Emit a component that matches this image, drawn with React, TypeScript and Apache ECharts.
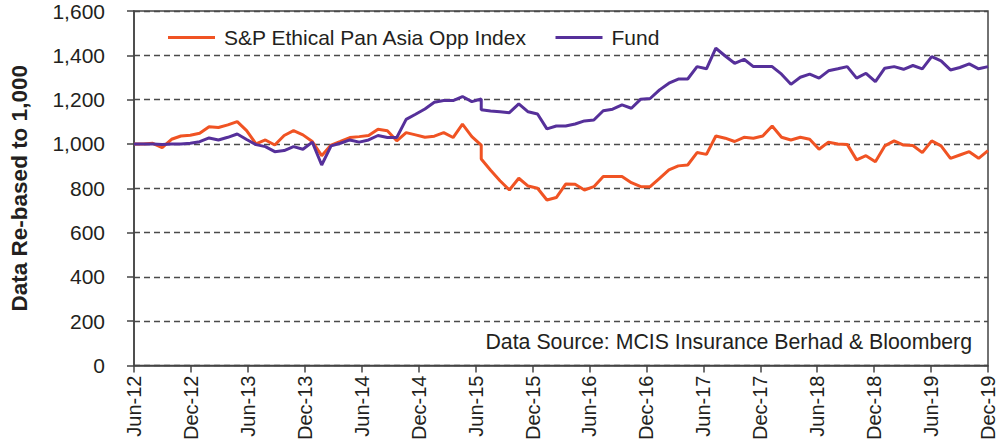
import React, { useEffect, useRef } from "react";
import * as echarts from "echarts";

// x-axis tick labels (every 6 months)
const xTickLabels = [
  "Jun-12", "Dec-12", "Jun-13", "Dec-13", "Jun-14", "Dec-14", "Jun-15", "Dec-15",
  "Jun-16", "Dec-16", "Jun-17", "Dec-17", "Jun-18", "Dec-18", "Jun-19", "Dec-19",
];
const yTickLabels = ["0", "200", "400", "600", "800", "1,000", "1,200", "1,400", "1,600"];

// observation positions (monthly steps, 0..91; step 37 appears twice: a sharp drop)
const obsSteps = [
  0, 1, 2, 3, 4, 5, 6, 7, 8, 9, 10, 11, 12, 13, 14, 15, 16, 17, 18, 19,
  20, 21, 22, 23, 24, 25, 26, 27, 28, 29, 30, 31, 32, 33, 34, 35, 36, 37, 37,
  38, 39, 40, 41, 42, 43, 44, 45, 46, 47, 48, 49, 50, 51, 52, 53, 54, 55, 56, 57, 58, 59,
  60, 61, 62, 63, 64, 65, 66, 67, 68, 69, 70, 71, 72, 73, 74, 75, 76, 77, 78, 79,
  80, 81, 82, 83, 84, 85, 86, 87, 88, 89, 90, 91,
];

const indexValues = [
  1000, 1000, 1003, 983, 1021, 1036, 1039, 1048, 1078, 1074, 1086, 1101, 1060, 1000, 1018, 995, 1038, 1060, 1041, 1011,
  947, 995, 1011, 1029, 1033, 1038, 1066, 1060, 1014, 1051, 1041, 1030, 1035, 1051, 1029, 1089, 1033, 995, 932,
  881, 834, 792, 845, 810, 800, 747, 758, 819, 818, 792, 807, 853, 853, 853, 825, 807, 807, 845, 883, 901, 905,
  961, 953, 1036, 1026, 1011, 1030, 1026, 1036, 1081, 1030, 1018, 1030, 1021, 976, 1008, 1000, 998, 928, 947, 920,
  991, 1014, 995, 993, 961, 1014, 991, 935, 950, 965, 935, 970,
];

const fundValues = [
  1000, 1000, 1000, 998, 1000, 1000, 1003, 1010, 1027, 1018, 1030, 1045, 1020, 997, 988, 965, 970, 988, 976, 1008,
  905, 991, 1003, 1018, 1008, 1018, 1038, 1029, 1029, 1111, 1134, 1158, 1188, 1196, 1196, 1214, 1191, 1203, 1154,
  1149, 1145, 1141, 1181, 1145, 1135, 1068, 1081, 1081, 1090, 1104, 1108, 1150, 1157, 1176, 1161, 1202, 1205, 1244, 1274, 1293, 1293,
  1349, 1339, 1432, 1397, 1364, 1382, 1349, 1349, 1349, 1315, 1269, 1301, 1315, 1297, 1330, 1339, 1349, 1297, 1319, 1281,
  1342, 1349, 1337, 1354, 1339, 1394, 1375, 1334, 1345, 1361, 1339, 1349,
];

const FONT = "'Liberation Sans', Arial, Helvetica, sans-serif";
const TEXT = "#231f20";

export default function App() {
  const ref = useRef<HTMLDivElement>(null);

  useEffect(() => {
    if (!ref.current) return;
    const chart = echarts.init(ref.current, undefined, { renderer: "svg" });
    chart.setOption({
      animation: false,
      textStyle: { fontFamily: FONT, color: TEXT },
      grid: {
        left: 133,
        right: 19,
        top: 11,
        bottom: 77.5,
        show: true,
        borderColor: "#444",
        borderWidth: 1.5,
        backgroundColor: "transparent",
      },
      legend: {
        left: 163,
        top: 22,
        icon: "rect",
        itemWidth: 47,
        itemHeight: 3,
        itemGap: 28,
        textStyle: { fontSize: 21, color: TEXT, fontFamily: FONT, padding: [0, 0, 0, 4] },
        data: ["S&P Ethical Pan Asia Opp Index", "Fund"],
      },
      xAxis: [
        {
          type: "value",
          min: 0,
          max: 90,
          interval: 6,
          position: "bottom",
          axisLine: { show: true, lineStyle: { color: "#444", width: 1.5 } },
          axisTick: { show: true, length: 7, lineStyle: { color: "#444", width: 1.5 } },
          splitLine: { show: false },
          axisLabel: {
            rotate: 90,
            fontSize: 20,
            color: TEXT,
            fontFamily: FONT,
            margin: 10,
            formatter: (v: number) => xTickLabels[Math.round(v / 6)] ?? "",
          },
        },
        {
          type: "value",
          min: 0,
          max: 91,
          show: false,
        },
      ],
      yAxis: {
        type: "value",
        min: 0,
        max: 1600,
        interval: 200,
        name: "Data Re-based to 1,000",
        nameLocation: "middle",
        nameGap: 103,
        nameRotate: 90,
        nameTextStyle: { fontSize: 22.5, fontWeight: "bold", color: TEXT, fontFamily: FONT },
        axisLine: { show: true, lineStyle: { color: "#444", width: 1.5 } },
        axisTick: { show: true, length: 7, lineStyle: { color: "#444", width: 1.5 } },
        axisLabel: {
          fontSize: 21,
          color: TEXT,
          fontFamily: FONT,
          margin: 29,
          formatter: (v: number) => yTickLabels[Math.round(v / 200)] ?? "",
        },
        splitLine: { show: true, lineStyle: { color: "#4a4a4a", width: 1.3, type: [6, 4] } },
      },
      series: [
        {
          name: "S&P Ethical Pan Asia Opp Index",
          type: "line",
          xAxisIndex: 1,
          symbol: "none",
          lineStyle: { color: "#f05323", width: 3 },
          itemStyle: { color: "#f05323" },
          data: obsSteps.map((s, i) => [s, indexValues[i]]),
          z: 3,
        },
        {
          name: "Fund",
          type: "line",
          xAxisIndex: 1,
          symbol: "none",
          lineStyle: { color: "#56309a", width: 3 },
          itemStyle: { color: "#56309a" },
          data: obsSteps.map((s, i) => [s, fundValues[i]]),
          z: 4,
        },
      ],
      graphic: [
        {
          type: "text",
          right: 35,
          top: 331,
          style: {
            text: "Data Source: MCIS Insurance Berhad & Bloomberg",
            fontSize: 21.3,
            fontFamily: FONT,
            fill: TEXT,
          },
        },
      ],
    });
    return () => chart.dispose();
  }, []);

  return (
    <div
      ref={ref}
      style={{ position: "fixed", left: 0, top: 0, width: 1007, height: 443, background: "#fff" }}
    />
  );
}
